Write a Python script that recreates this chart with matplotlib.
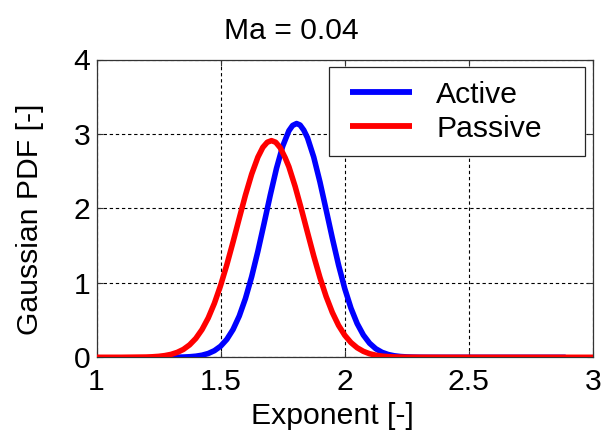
import matplotlib
matplotlib.use("Agg")
import matplotlib.pyplot as plt
from matplotlib.legend_handler import HandlerLine2D

# ---- data ----
x_active = [1.300, 1.325, 1.350, 1.375, 1.400, 1.425, 1.450, 1.475, 1.500, 1.525,
            1.550, 1.575, 1.600, 1.625, 1.650, 1.675, 1.700, 1.725, 1.750, 1.775,
            1.790, 1.806, 1.820, 1.835, 1.850, 1.875, 1.900, 1.925, 1.950, 1.975,
            2.000, 2.025, 2.050, 2.075, 2.100, 2.125, 2.150, 2.175, 2.200, 2.225,
            2.250, 2.275, 2.300, 2.325, 2.350, 2.375, 2.400, 2.890]
y_active = [0.0008, 0.0017, 0.0036, 0.0075, 0.0148, 0.028, 0.051, 0.089, 0.149, 0.241,
            0.373, 0.554, 0.790, 1.082, 1.423, 1.797, 2.179, 2.537, 2.835, 3.043,
            3.114, 3.140, 3.120, 3.051, 2.948, 2.690, 2.356, 1.981, 1.600, 1.240,
            0.923, 0.660, 0.453, 0.299, 0.189, 0.115, 0.067, 0.0375, 0.0202, 0.0104,
            0.0052, 0.0025, 0.0011, 0.0005, 0.0002, 0.0001, 0.0, 0.0]

x_passive = [1.000, 1.100, 1.200, 1.225, 1.250, 1.275, 1.300, 1.325, 1.350, 1.375,
             1.400, 1.425, 1.450, 1.475, 1.500, 1.525, 1.550, 1.575, 1.600, 1.625,
             1.650, 1.670, 1.688, 1.705, 1.722, 1.740, 1.760, 1.775, 1.800, 1.825,
             1.850, 1.875, 1.900, 1.925, 1.950, 1.975, 2.000, 2.025, 2.050, 2.075,
             2.100, 2.125, 2.150, 2.175, 2.200, 2.225, 2.250, 2.300, 2.400, 3.000]
y_passive = [0.0, 0.0002, 0.0036, 0.0069, 0.0127, 0.0227, 0.039, 0.066, 0.106, 0.167,
             0.253, 0.372, 0.528, 0.726, 0.966, 1.243, 1.549, 1.867, 2.179, 2.460,
             2.688, 2.820, 2.889, 2.910, 2.888, 2.815, 2.680, 2.559, 2.296, 1.994,
             1.676, 1.362, 1.072, 0.817, 0.602, 0.429, 0.296, 0.198, 0.128, 0.080,
             0.048, 0.028, 0.016, 0.0088, 0.0047, 0.0024, 0.0012, 0.0003, 0.0, 0.0]

series_labels = ["Active", "Passive"]
x_ticks = [1, 1.5, 2, 2.5, 3]
x_tick_labels = ["1", "1.5", "2", "2.5", "3"]
y_ticks = [0, 1, 2, 3, 4]
title_text = "Ma = 0.04"
x_label = "Exponent [-]"
y_label = "Gaussian PDF [-]"

# ---- style ----
plt.rcParams["font.family"] = ["Liberation Sans", "DejaVu Sans"]
plt.rcParams["lines.scale_dashes"] = False
FS = 21.7

W, H = 601, 438
fig = plt.figure(figsize=(W / 100, H / 100), dpi=100)
ax_l, ax_r, ax_t, ax_b = 96.5, 593.0, 59.5, 357.3
ax = fig.add_axes([ax_l / W, 1 - ax_b / H, (ax_r - ax_l) / W, (ax_b - ax_t) / H])

ax.plot(x_active, y_active, color=(0, 0, 1), lw=4.0, label=series_labels[0],
        solid_capstyle="butt", solid_joinstyle="round", zorder=3)
ax.plot(x_passive, y_passive, color=(1, 0, 0), lw=4.0, label=series_labels[1],
        solid_capstyle="butt", solid_joinstyle="round", zorder=4)

ax.set_xlim(1, 3)
ax.set_ylim(0, 4)
ax.set_xticks(x_ticks)
ax.set_xticklabels(x_tick_labels)
ax.set_yticks(y_ticks)
ax.grid(True, color="black", lw=0.8, linestyle=(0, (2.4, 2.0)))
ax.set_axisbelow(True)

for s in ax.spines.values():
    s.set_color("0.2")
    s.set_linewidth(0.9)
ax.tick_params(axis="both", direction="in", length=4, width=0.8, color="0.2",
               top=True, right=True, labelsize=FS)
ax.tick_params(axis="x", pad=8)
ax.tick_params(axis="y", pad=4.5)

ax.set_xlabel(x_label, fontsize=FS)
ax.xaxis.set_label_coords((332.5 - ax_l) / (ax_r - ax_l), (ax_b - 402.0) / (ax_b - ax_t))
ax.set_ylabel(y_label, fontsize=FS)
ax.yaxis.set_label_coords((44.0 - ax_l) / (ax_r - ax_l), (ax_b - 219.0) / (ax_b - ax_t))

fig.text(291.7 / W, 1 - 39.0 / H, title_text, ha="center", va="baseline", fontsize=FS)


class OffsetLineHandler(HandlerLine2D):
    def __init__(self, frac=0.1, **kw):
        super().__init__(**kw)
        self.frac = frac

    def get_xdata(self, legend, xdescent, ydescent, width, height, fontsize):
        xdata = [-xdescent + self.frac * width, -xdescent + width]
        xmark = [-xdescent + 0.5 * width]
        return xdata, xmark


handles, labels = ax.get_legend_handles_labels()
lg_l, lg_r, lg_t = 329.3, 585.0, 67.3
bx0 = (lg_l - ax_l) / (ax_r - ax_l)
bw = (lg_r - lg_l) / (ax_r - ax_l)
btop = (ax_b - lg_t) / (ax_b - ax_t)
leg = ax.legend(handles, labels, loc="upper left", mode="expand",
                bbox_to_anchor=(bx0, btop - 0.4, bw, 0.4), borderaxespad=0,
                fontsize=FS, fancybox=False, framealpha=1, edgecolor="0.15",
                borderpad=0.45, labelspacing=0.2, handlelength=2.3,
                handletextpad=0.8,
                handler_map={h: OffsetLineHandler(frac=0.1) for h in handles})
leg.get_frame().set_linewidth(0.9)
for lh in leg.get_lines():
    lh.set_linewidth(4.2)

fig.savefig("out.png", dpi=100)
